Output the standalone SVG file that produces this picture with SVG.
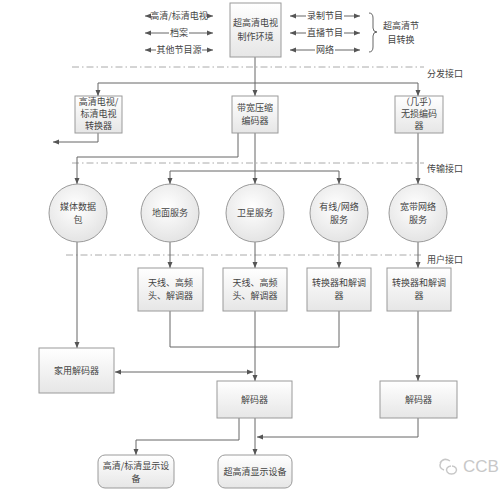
<svg xmlns="http://www.w3.org/2000/svg" width="500" height="492" viewBox="0 0 500 492">
<defs>
<linearGradient id="g" x1="0" y1="0" x2="0" y2="1"><stop offset="0" stop-color="#ffffff"/><stop offset="1" stop-color="#e6e6e6"/></linearGradient>
<radialGradient id="rg" cx="0.45" cy="0.4" r="0.6"><stop offset="0" stop-color="#ffffff"/><stop offset="1" stop-color="#e4e4e4"/></radialGradient>
<marker id="a" markerWidth="6" markerHeight="6" refX="6" refY="3" orient="auto-start-reverse" markerUnits="userSpaceOnUse"><path d="M0,0.5 L6,3 L0,5.5 z" fill="#555"/></marker>
</defs>
<style>
.b{fill:url(#g);stroke:#9a9a9a;stroke-width:1}
.c{fill:url(#rg);stroke:#9a9a9a;stroke-width:1}
.t{font-family:"Noto Sans CJK SC","Noto Sans",sans-serif;font-size:9px;fill:#444;text-anchor:middle}
.l{fill:none;stroke:#666;stroke-width:1}
.d{fill:none;stroke:#aaa;stroke-width:1;stroke-dasharray:7,3,1.5,3}
.s{font-family:"Noto Sans CJK SC","Noto Sans",sans-serif;font-size:9px;fill:#444}
</style>
<rect width="500" height="492" fill="#fff"/>

<g id="interfaces">
<line class="d" x1="72" y1="67" x2="424" y2="67"/>
<text class="s" x="427" y="77">分发接口</text>
<line class="d" x1="72" y1="163" x2="424" y2="163"/>
<text class="s" x="427" y="172">传输接口</text>
<line class="d" x1="66" y1="255" x2="424" y2="255"/>
<text class="s" x="427" y="263">用户接口</text>
</g>

<g id="sources">
<line class="l" marker-start="url(#a)" x1="145" y1="16" x2="151" y2="16"/>
<line class="l" marker-end="url(#a)" x1="207" y1="16" x2="213" y2="16"/>
<text class="t" x="179" y="19">高清/标清电视</text>
<line class="l" marker-start="url(#a)" x1="145" y1="33" x2="169" y2="33"/>
<line class="l" marker-end="url(#a)" x1="189" y1="33" x2="213" y2="33"/>
<text class="t" x="179" y="36">档案</text>
<line class="l" marker-start="url(#a)" x1="145" y1="50" x2="156" y2="50"/>
<line class="l" marker-end="url(#a)" x1="202" y1="50" x2="213" y2="50"/>
<text class="t" x="179" y="53">其他节目源</text>
<line class="l" marker-start="url(#a)" x1="290" y1="16" x2="306" y2="16"/>
<line class="l" marker-end="url(#a)" x1="344" y1="16" x2="360" y2="16"/>
<text class="t" x="325" y="19">录制节目</text>
<line class="l" marker-start="url(#a)" x1="290" y1="33" x2="306" y2="33"/>
<line class="l" marker-end="url(#a)" x1="344" y1="33" x2="360" y2="33"/>
<text class="t" x="325" y="36">直播节目</text>
<line class="l" marker-start="url(#a)" x1="290" y1="50" x2="315" y2="50"/>
<line class="l" marker-end="url(#a)" x1="335" y1="50" x2="360" y2="50"/>
<text class="t" x="325" y="53">网络</text>
<path class="l" d="M369,13 Q373,13 373,18 L373,28 Q373,32 377,32 Q373,32 373,36 L373,47 Q373,52 369,52"/>
<text class="t" x="401" y="29">超高清节</text>
<text class="t" x="401" y="43">目转换</text>
</g>

<g id="connectors">
<line class="l" marker-end="url(#a)" x1="255" y1="57" x2="255" y2="96"/>
<polyline class="l" points="98,96 98,83 418,83 418,96" marker-start="url(#a)" marker-end="url(#a)"/>
<polyline class="l" points="98,133 98,142 53,142" marker-end="url(#a)"/>
<polyline class="l" points="238,133 238,157 77,157 77,184" marker-end="url(#a)"/>
<line class="l" marker-end="url(#a)" x1="255" y1="133" x2="255" y2="184"/>
<polyline class="l" points="170,184 170,171 339,171 339,184" marker-start="url(#a)" marker-end="url(#a)"/>
<line class="l" marker-end="url(#a)" x1="418" y1="133" x2="418" y2="184"/>
<line class="l" marker-end="url(#a)" x1="170" y1="242" x2="170" y2="268"/>
<line class="l" marker-end="url(#a)" x1="255" y1="242" x2="255" y2="268"/>
<line class="l" marker-end="url(#a)" x1="339" y1="242" x2="339" y2="268"/>
<line class="l" marker-end="url(#a)" x1="418" y1="242" x2="418" y2="268"/>
<line class="l" marker-end="url(#a)" x1="77" y1="242" x2="77" y2="348"/>
<polyline class="l" points="170,311 170,347 339,347 339,311"/>
<line class="l" marker-end="url(#a)" x1="255" y1="311" x2="255" y2="381"/>
<line class="l" marker-end="url(#a)" x1="418" y1="311" x2="418" y2="381"/>
<line class="l" marker-start="url(#a)" marker-end="url(#a)" x1="115" y1="372" x2="253" y2="372"/>
<polyline class="l" points="239,418 239,440 136,440 136,455" marker-end="url(#a)"/>
<line class="l" marker-end="url(#a)" x1="255" y1="418" x2="255" y2="455"/>
<polyline class="l" points="418,418 418,437 257,437" marker-end="url(#a)"/>
</g>

<g id="n-production"><rect class="b" x="230" y="3" width="51" height="54"/><text class="t" x="255.5" y="26">超高清电视</text><text class="t" x="255.5" y="40">制作环境</text></g>
<g id="n-converter"><rect class="b" x="75" y="96" width="47" height="37"/><text class="t" x="98.5" y="105">高清电视/</text><text class="t" x="98.5" y="117">标清电视</text><text class="t" x="98.5" y="129">转换器</text></g>
<g id="n-encoder"><rect class="b" x="232" y="96" width="46" height="37"/><text class="t" x="255" y="111">带宽压缩</text><text class="t" x="255" y="124">编码器</text></g>
<g id="n-lossless"><rect class="b" x="395" y="96" width="48" height="37"/><text class="t" x="419" y="105">（几乎）</text><text class="t" x="419" y="117">无损编码</text><text class="t" x="419" y="129">器</text></g>

<g id="n-media"><circle class="c" cx="78" cy="213" r="29"/><text class="t" x="78" y="210">媒体数据</text><text class="t" x="78" y="223">包</text></g>
<g id="n-terrestrial"><circle class="c" cx="170" cy="213" r="29"/><text class="t" x="170" y="216">地面服务</text></g>
<g id="n-satellite"><circle class="c" cx="255" cy="213" r="29"/><text class="t" x="255" y="216">卫星服务</text></g>
<g id="n-cable"><circle class="c" cx="339" cy="213" r="29"/><text class="t" x="339" y="210">有线/网络</text><text class="t" x="339" y="223">服务</text></g>
<g id="n-broadband"><circle class="c" cx="418" cy="213" r="29"/><text class="t" x="418" y="210">宽带网络</text><text class="t" x="418" y="223">服务</text></g>

<g id="n-antenna1"><rect class="b" x="138" y="268" width="65" height="43"/><text class="t" x="170.5" y="286">天线、高频</text><text class="t" x="170.5" y="299">头、解调器</text></g>
<g id="n-antenna2"><rect class="b" x="223" y="268" width="64" height="43"/><text class="t" x="255" y="286">天线、高频</text><text class="t" x="255" y="299">头、解调器</text></g>
<g id="n-demod1"><rect class="b" x="307" y="268" width="64" height="43"/><text class="t" x="339" y="286">转换器和解调</text><text class="t" x="339" y="299">器</text></g>
<g id="n-demod2"><rect class="b" x="387" y="268" width="64" height="43"/><text class="t" x="419" y="286">转换器和解调</text><text class="t" x="419" y="299">器</text></g>

<g id="n-home"><rect class="b" x="39" y="348" width="75" height="45"/><text class="t" x="76.5" y="374">家用解码器</text></g>
<g id="n-decoder1"><rect class="b" x="217" y="381" width="75" height="37"/><text class="t" x="254.5" y="403">解码器</text></g>
<g id="n-decoder2"><rect class="b" x="380" y="381" width="77" height="37"/><text class="t" x="418.5" y="403">解码器</text></g>

<g id="n-hd-display"><rect class="b" x="98" y="455" width="76" height="33" rx="7"/><text class="t" x="136" y="469">高清/标清显示设</text><text class="t" x="136" y="482">备</text></g>
<g id="n-uhd-display"><rect class="b" x="218" y="455" width="74" height="33" rx="7"/><text class="t" x="255" y="475">超高清显示设备</text></g>

<g id="watermark"><text x="463" y="472" font-family="Liberation Sans,sans-serif" font-size="17" fill="#c8c8c8">CCBN</text><path d="M440,463 q4,-6 10,-2 M444,470 q-6,-2 -3,-8 M452,466 a5,4 0 1 1 -1,0" fill="none" stroke="#c8c8c8" stroke-width="1.5"/></g>
</svg>
